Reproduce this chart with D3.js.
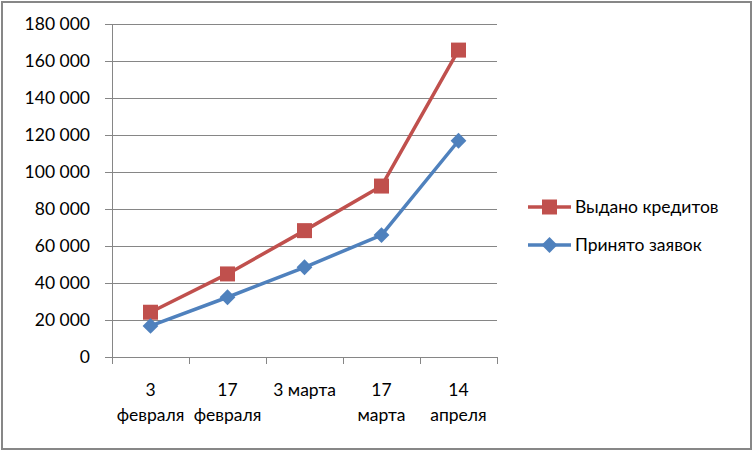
<!DOCTYPE html>
<html>
<head>
<meta charset="utf-8">
<script src="https://cdn.jsdelivr.net/npm/d3@7"></script>
<style>
  body { margin: 0; background: #fff; }
  text { font-family: Lato, "Open Sans", sans-serif; fill: #000; }
</style>
</head>
<body>
<svg id="chart" width="753" height="451"></svg>
<script>
const categories = ['3 февраля', '17 февраля', '3 марта', '17 марта', '14 апреля'];
const issued = [24200, 44900, 68300, 92400, 165900];   // Выдано кредитов
const accepted = [16800, 32300, 48500, 65900, 116900]; // Принято заявок
const yTicks = [0, 20000, 40000, 60000, 80000, 100000, 120000, 140000, 160000, 180000];

const svg = d3.select('#chart');
const fontSize = '17.5px';

// outer frame
svg.append('rect')
  .attr('x', 2).attr('y', 2)
  .attr('width', 749).attr('height', 447)
  .style('fill', '#fff')
  .style('stroke', '#878787')
  .style('stroke-width', 2);

const plotLeft = 112, plotRight = 497, plotTop = 24, plotBottom = 357;

const x = d3.scaleBand().domain(categories).range([plotLeft, plotRight]);
const y = d3.scaleLinear().domain([0, 180000]).range([plotBottom, plotTop]);

const fmt = d => d3.format(',')(d).replace(/,/g, ' ');

// grid
svg.append('g')
  .selectAll('line')
  .data(yTicks)
  .enter()
  .append('line')
  .attr('x1', plotLeft - 7).attr('x2', plotRight)
  .attr('y1', d => y(d) + 0.5).attr('y2', d => y(d) + 0.5)
  .style('stroke', '#868686')
  .style('stroke-width', 1);

// y axis line
svg.append('line')
  .attr('x1', plotLeft + 0.5).attr('x2', plotLeft + 0.5)
  .attr('y1', plotTop).attr('y2', plotBottom + 0.5)
  .style('stroke', '#868686');

// y labels
svg.append('g')
  .selectAll('text')
  .data(yTicks)
  .enter()
  .append('text')
  .attr('x', 90)
  .attr('y', d => y(d))
  .attr('dy', '0.36em')
  .attr('text-anchor', 'end')
  .style('font-size', fontSize)
  .text(fmt);

// x category boundary ticks
const bounds = categories.map(c => x(c)).concat([plotRight]);
svg.append('g')
  .selectAll('line')
  .data(bounds)
  .enter()
  .append('line')
  .attr('x1', d => d + 0.5).attr('x2', d => d + 0.5)
  .attr('y1', plotBottom).attr('y2', plotBottom + 7)
  .style('stroke', '#868686');

// x labels, wrapped into band width
const cx = c => x(c) + x.bandwidth() / 2;
const measure = svg.append('text').style('font-size', fontSize);
function wrap(label) {
  measure.text(label);
  if (measure.node().getComputedTextLength() <= x.bandwidth() - 8) return [label];
  return label.split(' ');
}
const xl = svg.append('g')
  .selectAll('text')
  .data(categories)
  .enter()
  .append('text')
  .attr('text-anchor', 'middle')
  .style('font-size', fontSize);
xl.each(function (c) {
  d3.select(this).selectAll('tspan')
    .data(wrap(c))
    .enter()
    .append('tspan')
    .attr('x', cx(c))
    .attr('y', (d, i) => 396 + i * 25)
    .text(d => d);
});
measure.remove();

// series
const series = [
  { name: 'Выдано кредитов', values: issued, color: '#C0504D', size: 225, rotate: 0 },
  { name: 'Принято заявок', values: accepted, color: '#4F81BD', size: 125, rotate: 45 }
];

const line = d3.line()
  .x((d, i) => cx(categories[i]))
  .y(d => y(d));

series.forEach(s => {
  svg.append('path')
    .datum(s.values)
    .attr('d', line)
    .style('fill', 'none')
    .style('stroke', s.color)
    .style('stroke-width', 3.5)
    .style('stroke-linejoin', 'round');

  svg.append('g')
    .selectAll('path')
    .data(s.values)
    .enter()
    .append('path')
    .attr('d', d3.symbol().type(d3.symbolSquare).size(s.size))
    .attr('transform', (d, i) => `translate(${cx(categories[i])},${y(d)}) rotate(${s.rotate})`)
    .style('fill', s.color);
});

// legend
const legendY = [207, 245];
series.forEach((s, i) => {
  const g = svg.append('g').attr('transform', `translate(0,${legendY[i]})`);
  g.append('line')
    .attr('x1', 528).attr('x2', 571)
    .style('stroke', s.color)
    .style('stroke-width', 3.5);
  g.append('path')
    .attr('d', d3.symbol().type(d3.symbolSquare).size(s.size))
    .attr('transform', `translate(549.5,0) rotate(${s.rotate})`)
    .style('fill', s.color);
  g.append('text')
    .attr('x', 575)
    .attr('dy', '0.36em')
    .style('font-size', fontSize)
    .text(s.name);
});
</script>
</body>
</html>
